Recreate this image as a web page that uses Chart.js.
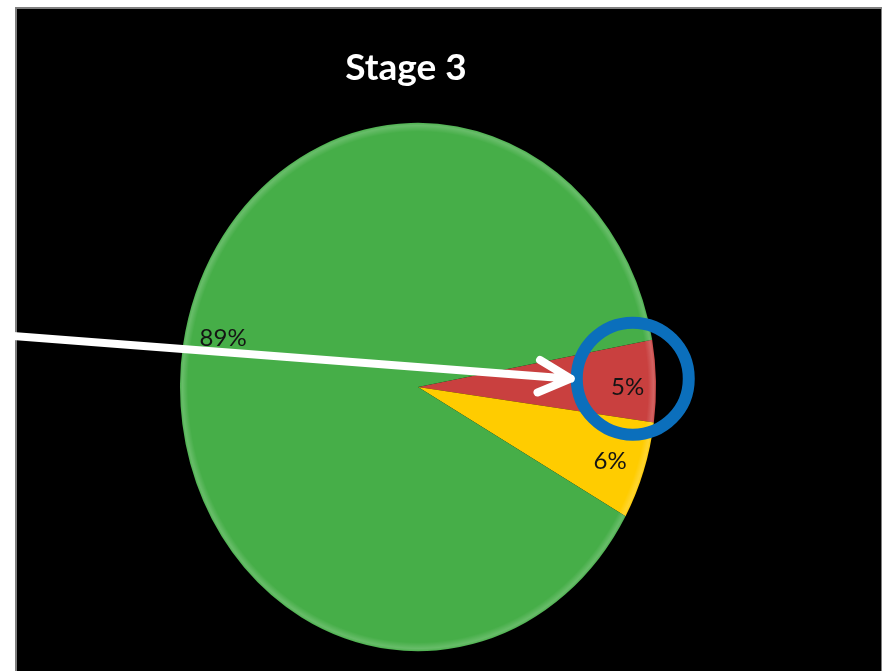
<!DOCTYPE html>
<html>
<head>
<meta charset="utf-8">
<script src="https://cdn.jsdelivr.net/npm/chart.js@4/dist/chart.umd.min.js"></script>
<style>
  html, body { margin: 0; padding: 0; background: #fff; }
  #panel {
    position: absolute; left: 15px; top: 7px; width: 864px; height: 670px;
    background: #000; border: 2px solid #7f7f7f; border-bottom: none;
  }
  #wrap { position: absolute; left: 0; top: 0; width: 882px; height: 671px; }
</style>
</head>
<body>
<div id="panel"></div>
<div id="wrap"><canvas id="stageChart"></canvas></div>
<script>
let labels = ['Red', 'Yellow', 'Green'];
let values = [5, 6, 89];
let colors = ['#c9403f', '#ffcc00', '#46ae48'];

const titleText = 'Stage 3';
// the pie is drawn slightly taller than wide
const stretchY = 1.11;
// small nudges so the percent labels sit where they read best
const labelNudge = [[5, 5], [-2, 2], [7, -11]];

function labelPoint(arc, frac) {
  const mid = (arc.startAngle + arc.endAngle) / 2;
  const r = arc.outerRadius * frac;
  return { x: arc.x + Math.cos(mid) * r, y: arc.y + Math.sin(mid) * r * stretchY };
}

const ovalPie = {
  id: 'ovalPie',
  beforeDatasetsDraw(chart) {
    const arc = chart.getDatasetMeta(0).data[0];
    const ctx = chart.ctx;
    ctx.save();
    ctx.translate(arc.x, arc.y);
    ctx.scale(1, stretchY);
    ctx.translate(-arc.x, -arc.y);
  },
  afterDatasetsDraw(chart) {
    const ctx = chart.ctx;
    const meta = chart.getDatasetMeta(0);
    const a0 = meta.data[0];
    // soft highlight along the rim
    const g = ctx.createRadialGradient(a0.x, a0.y, a0.outerRadius - 8, a0.x, a0.y, a0.outerRadius);
    g.addColorStop(0, 'rgba(255,255,255,0)');
    g.addColorStop(0.7, 'rgba(255,255,255,0.18)');
    g.addColorStop(1, 'rgba(255,255,255,0.05)');
    ctx.fillStyle = g;
    ctx.beginPath();
    ctx.arc(a0.x, a0.y, a0.outerRadius, 0, Math.PI * 2);
    ctx.fill();
    ctx.restore();

    ctx.save();
    ctx.textAlign = 'center';
    ctx.textBaseline = 'middle';
    ctx.font = '24px Lato';
    ctx.fillStyle = '#141414';
    meta.data.forEach((arc, i) => {
      const p = labelPoint(arc, 0.86);
      ctx.fillText(values[i] + '%', p.x + labelNudge[i][0], p.y + labelNudge[i][1]);
    });

    // title, a little left of the pie centre
    ctx.font = 'bold 37px Lato';
    ctx.fillStyle = '#fff';
    ctx.fillText(titleText, a0.x - 12, 68);
    ctx.restore();
  },
  afterDraw(chart) {
    const ctx = chart.ctx;
    const red = chart.getDatasetMeta(0).data[0];
    const c = labelPoint(red, 0.89);
    c.x += 3;
    c.y -= 3;
    const ringR = 56;

    // callout ring
    ctx.save();
    ctx.strokeStyle = '#0b6fbc';
    ctx.lineWidth = 12;
    ctx.beginPath();
    ctx.arc(c.x, c.y, ringR, 0, Math.PI * 2);
    ctx.stroke();

    // arrow into the ring
    const tip = { x: c.x - ringR - 6, y: c.y };
    const tail = { x: 0, y: red.y - 52 };
    const ang = Math.atan2(tip.y - tail.y, tip.x - tail.x);
    ctx.strokeStyle = '#fff';
    ctx.lineWidth = 8;
    ctx.lineCap = 'round';
    ctx.beginPath();
    ctx.moveTo(tail.x, tail.y);
    ctx.lineTo(tip.x, tip.y);
    [0.47, -0.47].forEach(d => {
      ctx.moveTo(tip.x, tip.y);
      ctx.lineTo(tip.x - Math.cos(ang + d) * 36, tip.y - Math.sin(ang + d) * 36);
    });
    ctx.stroke();
    ctx.restore();
  }
};

let chart = new Chart(document.getElementById('stageChart').getContext('2d'), {
  type: 'pie',
  data: {
    labels: labels,
    datasets: [{
      data: values,
      backgroundColor: colors,
      borderWidth: 0,
      clip: false
    }]
  },
  options: {
    responsive: true,
    maintainAspectRatio: false,
    animation: false,
    rotation: 79.7,
    layout: { padding: { top: 149, bottom: 46, left: 0, right: 46 } },
    plugins: {
      legend: { display: false },
      tooltip: { enabled: false },
      title: { display: false }
    }
  },
  plugins: [ovalPie]
});
</script>
</body>
</html>
